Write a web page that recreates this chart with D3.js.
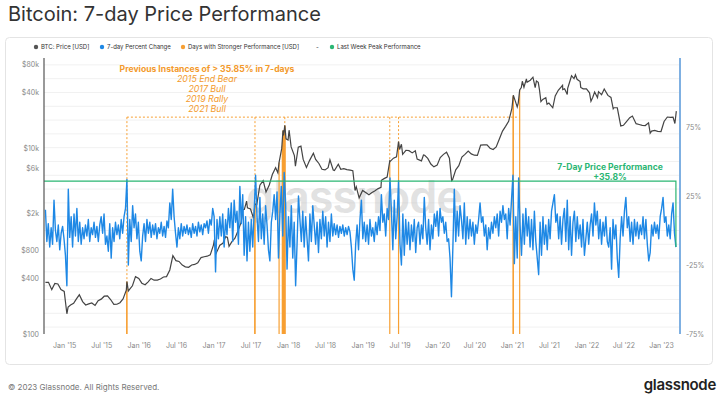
<!DOCTYPE html>
<html><head><meta charset="utf-8">
<script src="https://cdn.jsdelivr.net/npm/d3@7"></script>
<style>
html,body{margin:0;padding:0;background:#fff;}
svg{display:block;font-family:Inter,"Noto Sans",sans-serif;}
</style></head><body>
<svg id="c" width="718" height="395"></svg>
<script>
// ---------------- DATA ----------------
const priceDates = ["2014-10-01","2014-10-16","2014-11-01","2014-11-16","2014-12-01","2014-12-16","2015-01-01","2015-01-14","2015-01-20","2015-02-01","2015-02-16","2015-03-01","2015-03-16","2015-04-01","2015-04-16","2015-05-01","2015-05-16","2015-06-01","2015-06-16","2015-07-01","2015-07-16","2015-08-01","2015-08-16","2015-09-01","2015-09-16","2015-10-01","2015-10-16","2015-11-01","2015-11-04","2015-11-11","2015-11-16","2015-12-01","2015-12-16",
"2016-01-01","2016-01-16","2016-02-01","2016-02-16","2016-03-01","2016-03-16","2016-04-01","2016-04-16","2016-05-01","2016-05-16","2016-06-01","2016-06-16","2016-07-01","2016-07-16","2016-08-01","2016-08-16","2016-09-01","2016-09-16","2016-10-01","2016-10-16","2016-11-01","2016-11-16","2016-12-01","2016-12-16",
"2017-01-01","2017-01-05","2017-01-12","2017-01-16","2017-02-01","2017-02-16","2017-03-01","2017-03-10","2017-03-18","2017-04-01","2017-04-16","2017-05-01","2017-05-16","2017-05-25","2017-06-01","2017-06-12","2017-06-16","2017-07-01","2017-07-16","2017-07-23","2017-08-01","2017-08-16","2017-09-01","2017-09-15","2017-10-01","2017-10-16","2017-11-01","2017-11-12","2017-11-18","2017-12-01","2017-12-07","2017-12-10","2017-12-16","2017-12-22",
"2018-01-01","2018-01-06","2018-01-16","2018-02-01","2018-02-06","2018-02-20","2018-03-05","2018-03-16","2018-04-01","2018-04-16","2018-05-05","2018-05-16","2018-06-01","2018-06-16","2018-07-01","2018-07-16","2018-07-25","2018-08-10","2018-08-16","2018-09-04","2018-09-16","2018-10-01","2018-10-16","2018-11-01","2018-11-14","2018-11-25","2018-12-01","2018-12-15",
"2019-01-01","2019-01-16","2019-02-01","2019-02-16","2019-03-01","2019-03-16","2019-04-01","2019-04-03","2019-04-16","2019-05-01","2019-05-14","2019-05-16","2019-06-01","2019-06-16","2019-06-26","2019-07-01","2019-07-10","2019-07-16","2019-08-01","2019-08-16","2019-09-01","2019-09-16","2019-09-25","2019-10-16","2019-10-26","2019-11-01","2019-11-16","2019-12-01","2019-12-16",
"2020-01-01","2020-01-16","2020-02-01","2020-02-16","2020-03-01","2020-03-12","2020-03-16","2020-04-01","2020-04-16","2020-05-01","2020-05-16","2020-06-01","2020-06-16","2020-07-01","2020-07-16","2020-08-01","2020-08-16","2020-09-01","2020-09-16","2020-10-01","2020-10-16","2020-11-01","2020-11-16","2020-12-01","2020-12-16",
"2021-01-01","2021-01-08","2021-01-16","2021-01-27","2021-02-01","2021-02-08","2021-02-16","2021-02-21","2021-03-01","2021-03-13","2021-03-16","2021-04-01","2021-04-14","2021-04-25","2021-05-01","2021-05-10","2021-05-16","2021-05-23","2021-06-01","2021-06-16","2021-06-22","2021-07-01","2021-07-20","2021-08-01","2021-08-16","2021-09-06","2021-09-07","2021-09-16","2021-09-29","2021-10-01","2021-10-16","2021-10-20","2021-11-01","2021-11-08","2021-11-16","2021-12-01","2021-12-04","2021-12-16",
"2022-01-01","2022-01-16","2022-01-23","2022-02-01","2022-02-10","2022-02-24","2022-03-01","2022-03-16","2022-03-29","2022-04-16","2022-05-01","2022-05-12","2022-05-16","2022-06-01","2022-06-18","2022-07-01","2022-07-16","2022-08-01","2022-08-14","2022-09-01","2022-09-16","2022-10-01","2022-10-16","2022-11-01","2022-11-09","2022-11-16","2022-12-01","2022-12-16",
"2023-01-01","2023-01-16","2023-02-01","2023-02-16","2023-03-01","2023-03-10","2023-03-17"];
const priceValues = [360,360,300,350,345,300,287,165,195,205,214,237,264,223,205,211,216,203,228,237,255,257,235,208,209,217,238,296,367,290,300,330,414,
395,352,339,364,396,379,380,391,410,414,488,696,615,603,551,528,521,552,560,582,664,678,687,710,
910,1028,720,755,900,946,1110,1100,875,983,1074,1292,1583,2184,2184,2685,2275,2211,1756,2500,2475,3986,4459,3367,4004,5187,6143,5415,7000,9919,15470,13650,17563,12558,
12194,15560,10283,8281,6370,10200,10500,7553,6188,7326,8800,7553,6825,5915,5824,6143,7462,5800,5733,6700,5915,6006,5870,5779,5700,3500,3822,2912,
3504,3322,3140,3322,3458,3640,3777,4500,4687,4869,7280,7189,7781,8054,11740,9646,11000,8554,9464,9373,8873,9346,7600,7280,8418,8372,7735,6734,6279,
6552,7917,8554,9009,7781,4459,4550,5824,6461,8008,8554,9282,8645,8372,8327,10738,10829,10829,9965,9646,10283,12558,15197,17108,19383,
26754,36946,32760,27664,30485,42224,44772,52325,45136,55510,50960,53690,57785,44590,52598,50960,42224,31577,33397,34853,29575,30485,27118,36309,41860,47300,42588,43498,37765,43771,55965,60060,55783,61425,54873,51870,44863,43316,
43407,39221,31850,35217,40040,34853,40404,37401,43134,36855,35035,26390,27118,27118,17290,17563,19292,21203,22113,18291,17927,17563,17472,18655,14469,15197,15470,15106,
15060,19292,21567,21385,21476,18382,24934];

// 7-day percent change, one reading per week starting at pctStart
const pctStart = "2014-10-01";
const pctValues = [
15,-8,5,-12,2,-10,22,0,-8,4, -14,-2,3,-6,-18,-40,30,-5,10,-12,
12,-4,16,-8,6,-10,2,-6,4,-4, 8,-8,2,-3,6,-5,3,-8,4,10,
-2,12,-10,-4,-15,5,-20,2,-8,6, -3,4,-6,8,-2,10,16,37,-25,8,
-8,18,2,12,-6,6,-15,-22,-4,5, -8,8,-2,6,-5,4,-3,5,-6,2,
-2,6,-4,3,-5,7,2,20,8,30, 10,-2,-12,2,-6,5,-4,3,-2,4,
-3,2,-5,5,-2,3,-4,6,-1,4, -3,5,2,7,-2,8,4,16,10,-30,
8,-6,10,-4,12,-12,8,-3,16,2, 20,-8,22,6,14,-10,32,5,26,-18,
10,-22,6,-15,8,-12,14,40,10,-8, 24,-6,12,-10,18,4,-14,-22,6,14,
26,8,28,-20,12,32,-4,42,20,-28, 10,-12,18,-20,6,-40,-10,25,8,-8,
14,-12,10,-6,-22,12,-8,18,4,-10, 6,-16,8,-6,14,-4,10,-12,6,-8,
12,-4,5,-3,4,-5,3,-2,4,-4, 2,-3,3,-1,-12,-28,-36,-10,4,-14,
8,22,-6,6,-8,4,-10,8,-4,2, -8,6,-3,10,0,26,6,12,-4,16,
8,38,14,-14,22,-6,10,36,-10,-25, 12,-18,8,-10,6,-14,4,-8,8,-16,
2,6,-10,4,-6,24,2,-10,8,-14, 4,-6,12,3,14,-4,16,6,10,-2,
6,-8,-6,-20,-48,-12,30,-8,14,-4, 18,8,-6,20,-10,10,-6,8,-4,6,
-10,4,-2,8,20,6,10,-4,4,-14, 2,-6,6,-2,10,2,12,-4,14,6,
18,8,12,-6,16,4,22,40,-24,10, -20,38,4,-18,12,-10,16,-4,10,-12,
8,-14,14,-8,-20,-32,6,-18,10,-10, 4,-14,8,-6,14,20,26,6,12,-6,
10,-10,8,16,-8,22,-14,10,-18,6, 14,-8,10,-6,4,-12,8,-18,-6,6,
-10,4,12,-4,20,4,14,-6,8,-10, 6,-4,10,-8,-12,2,-28,8,-6,4,
-20,-34,-6,10,-4,14,24,2,10,-8, 6,-10,8,-4,6,-6,4,-3,10,-6,
8,-10,-22,-16,4,-4,6,-2,4,-6, 10,16,24,6,10,-4,4,-6,12,20,
-2,-12];

// Days with stronger performance (price on those days, USD)
const strongDates = ["2015-11-03","2015-11-04","2017-07-22","2017-07-23","2017-11-18",
"2017-12-04","2017-12-05","2017-12-06","2017-12-07","2017-12-08","2017-12-09","2017-12-10","2017-12-11","2017-12-12","2017-12-13","2017-12-14","2017-12-15","2017-12-16","2017-12-17",
"2019-05-14","2019-06-26","2021-01-07","2021-01-08","2021-02-08"];
const strongValues = [360,367,2575,2500,7000,
10500,10650,12300,15470,14600,13650,13650,15200,15650,14900,15100,16000,17563,17300,
7280,11740,35850,36946,42224];
const annotationDates = ["2015-11-04","2017-07-23","2017-12-16","2019-05-14","2019-06-26"];
const annotationLevel = 21500;

const lastWeekPeak = 35.8;

const priceTicks = [100,400,800,2000,6000,10000,40000,80000];
const priceTickLabels = ["$100","$400","$800","$2k","$6k","$10k","$40k","$80k"];
const pctTicks = [-75,-25,25,75];
const pctTickLabels = ["-75%","-25%","25%","75%"];
const xTickDates = ["2015-01-01","2015-07-01","2016-01-01","2016-07-01","2017-01-01","2017-07-01","2018-01-01","2018-07-01","2019-01-01","2019-07-01","2020-01-01","2020-07-01","2021-01-01","2021-07-01","2022-01-01","2022-07-01","2023-01-01"];
const xTickLabels = ["Jan '15","Jul '15","Jan '16","Jul '16","Jan '17","Jul '17","Jan '18","Jul '18","Jan '19","Jul '19","Jan '20","Jul '20","Jan '21","Jul '21","Jan '22","Jul '22","Jan '23"];

const legendItems = [
  {label:"BTC: Price [USD]", color:"#555555", x:36},
  {label:"7-day Percent Change", color:"#1e88e5", x:102},
  {label:"Days with Stronger Performance [USD]", color:"#f7a034", x:183},
  {label:"Last Week Peak Performance", color:"#2bb673", x:332}
];

// ---------------- CHART ----------------
const svg = d3.select("#c");
const parse = d3.utcParse("%Y-%m-%d");
const L = 44, R = 680, T = 58, B = 334;
const x = d3.scaleUtc().domain([parse("2014-09-24"), parse("2023-04-04")]).range([L, R]);
const yP = d3.scaleLog().domain([100, 93000]).range([B, T]);
const yC = d3.scaleLinear().domain([-75, 125]).range([B, T]);

const price = priceDates.map((d,i)=>({d:parse(d), v:priceValues[i]}));
const p0 = parse(pctStart);
const pct = pctValues.map((v,i)=>({d:d3.utcDay.offset(p0, i*7), v}));
const strong = strongDates.map((d,i)=>({d:parse(d), v:strongValues[i]}));

// card
svg.append("rect").attr("x",5.5).attr("y",37.5).attr("width",707).attr("height",327)
  .attr("rx",4).attr("fill","#fff").attr("stroke","#e4e4e4");

// title
svg.append("text").attr("x",8).attr("y",21).attr("font-size",20).attr("fill","#333")
  .text("Bitcoin: 7-day Price Performance");

// grid
const gridVals = d3.range(-70, 125, 10);
svg.append("g").selectAll("line").data(gridVals).join("line")
  .attr("x1",L).attr("x2",R).attr("y1",d=>yC(d)).attr("y2",d=>yC(d))
  .attr("stroke","#f1f1f1").attr("stroke-width",1);

// watermark
svg.append("text").attr("x",246).attr("y",213).attr("font-size",45).attr("font-weight",600)
  .attr("fill","#bdbdbd").attr("fill-opacity",0.45).attr("letter-spacing",-1).text("glassnode");

// strong days bars
svg.append("g").selectAll("rect").data(strong).join("rect")
  .attr("x",d=>x(d.d)-0.6).attr("width",1.2)
  .attr("y",d=>yP(d.v)).attr("height",d=>B-yP(d.v))
  .attr("fill","#f7a034");

// annotation dotted lines
const aY = yP(annotationLevel);
svg.append("line").attr("x1",x(parse(annotationDates[0]))).attr("x2",x(parse("2021-02-08")))
  .attr("y1",aY).attr("y2",aY).attr("stroke","#f7a034").attr("stroke-dasharray","2,2").attr("stroke-width",1);
svg.append("g").selectAll("line").data(annotationDates.map(parse)).join("line")
  .attr("x1",d=>x(d)).attr("x2",d=>x(d)).attr("y1",aY)
  .attr("y2",d=>{const s=strong.find(e=>+e.d===+d); return s?yP(s.v):B;})
  .attr("stroke","#f7a034").attr("stroke-dasharray","2,2").attr("stroke-width",1);

// price line
svg.append("path").datum(price)
  .attr("d", d3.line().x(d=>x(d.d)).y(d=>yP(d.v)))
  .attr("fill","none").attr("stroke","#444").attr("stroke-width",1.2);

// pct line
svg.append("path").datum(pct)
  .attr("d", d3.line().x(d=>x(d.d)).y(d=>yC(d.v)))
  .attr("fill","none").attr("stroke","#1e88e5").attr("stroke-width",1.4).attr("stroke-linejoin","round");

// green last-week peak line
const lastPct = pct[pct.length-1];
svg.append("path").datum([{d:x.domain()[0], v:lastWeekPeak},{d:lastPct.d, v:lastWeekPeak},{d:lastPct.d, v:lastPct.v}])
  .attr("d", d3.line().x(d=>Math.max(L,x(d.d))).y(d=>yC(d.v)))
  .attr("fill","none").attr("stroke","#2bb673").attr("stroke-width",1.2);

// axes
svg.append("line").attr("x1",L).attr("x2",L).attr("y1",T).attr("y2",B).attr("stroke","#555").attr("stroke-width",1.2);
svg.append("line").attr("x1",R).attr("x2",R).attr("y1",T).attr("y2",B).attr("stroke","#7fb0e2").attr("stroke-width",2);

const axL = d3.axisLeft(yP).tickValues(priceTicks).tickFormat((d,i)=>priceTickLabels[i]).tickSize(0).tickPadding(5);
const gL = svg.append("g").attr("transform",`translate(${L},0)`).call(axL);
const axR = d3.axisRight(yC).tickValues(pctTicks).tickFormat((d,i)=>pctTickLabels[i]).tickSize(0).tickPadding(6);
const gR = svg.append("g").attr("transform",`translate(${R},0)`).call(axR);
const axB = d3.axisBottom(x).tickValues(xTickDates.map(parse)).tickFormat((d,i)=>xTickLabels[i]).tickSize(0).tickPadding(9);
const gB = svg.append("g").attr("transform",`translate(0,${B})`).call(axB);
[gL,gR,gB].forEach(g=>{
  g.select(".domain").remove();
  g.selectAll("text").attr("font-size",7).attr("fill","#888").attr("font-family","Inter, sans-serif");
});

// legend
const lg = svg.append("g").attr("font-size",6).attr("fill","#333");
legendItems.forEach(it=>{
  lg.append("circle").attr("cx",it.x).attr("cy",47).attr("r",2.2).attr("fill",it.color);
  lg.append("text").attr("x",it.x+5).attr("y",49.2).text(it.label);
});
lg.append("text").attr("x",316).attr("y",49.2).text("-");

// annotation texts
const aT = svg.append("g").attr("text-anchor","middle").attr("fill","#f39a2c");
aT.append("text").attr("x",207).attr("y",71.5).attr("font-size",8.6).attr("font-weight",700).text("Previous Instances of > 35.85% in 7-days");
["2015 End Bear","2017 Bull","2019 Rally","2021 Bull"].forEach((t,i)=>{
  aT.append("text").attr("x",207).attr("y",82+i*10.1).attr("font-size",8.8).attr("font-style","italic").text(t);
});
const gT = svg.append("g").attr("text-anchor","middle").attr("fill","#2bb673").attr("font-size",8.6).attr("font-weight",700);
gT.append("text").attr("x",610).attr("y",170).text("7-Day Price Performance");
gT.append("text").attr("x",610).attr("y",179.5).text("+35.8%");

// footer
svg.append("text").attr("x",8).attr("y",390).attr("font-size",8).attr("fill","#777").text("© 2023 Glassnode. All Rights Reserved.");
svg.append("text").attr("x",716).attr("y",390).attr("text-anchor","end").attr("font-size",15).attr("font-weight",600).attr("fill","#222").attr("letter-spacing",-0.3).text("glassnode");
</script>
</body></html>
